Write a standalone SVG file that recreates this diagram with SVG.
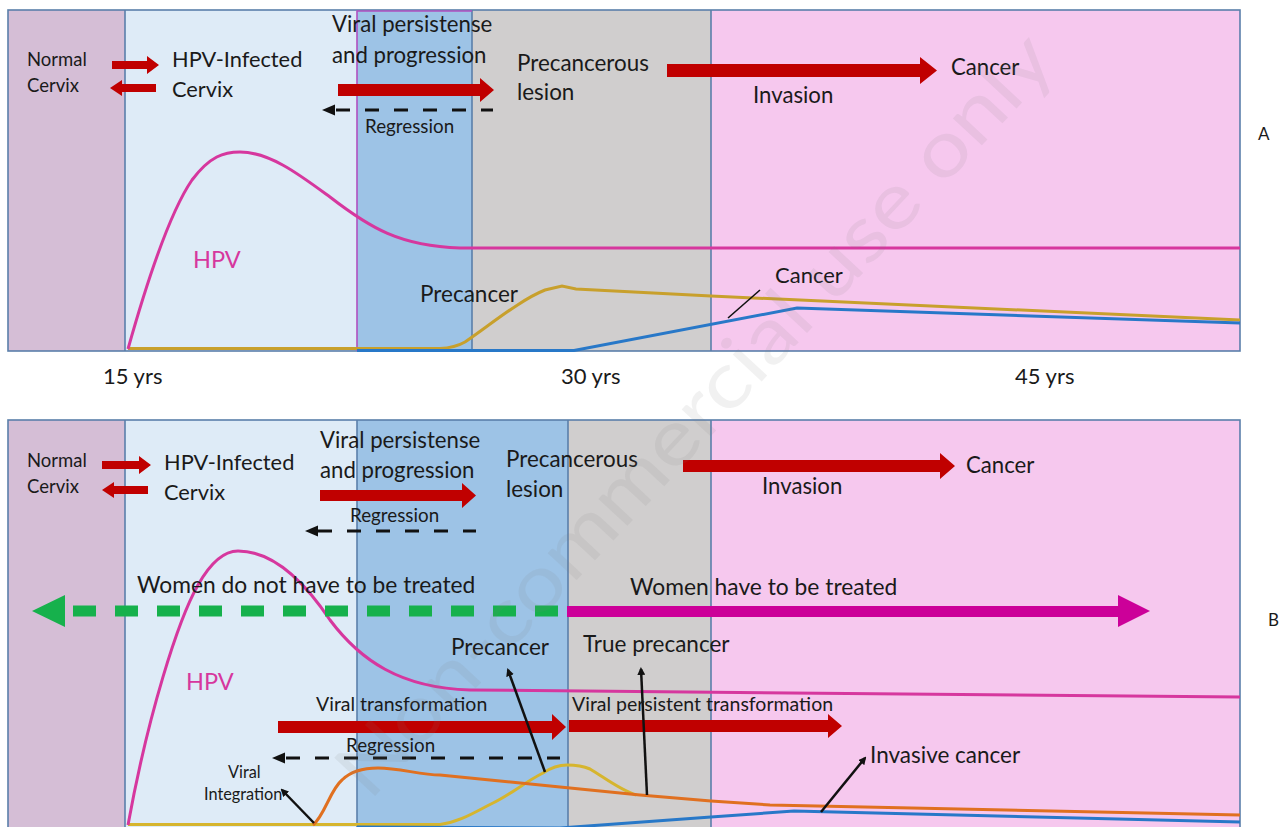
<svg xmlns="http://www.w3.org/2000/svg" width="1285" height="827" viewBox="0 0 1285 827">
<style>
.t{font-family:Lato,"Open Sans","Liberation Sans",sans-serif;fill:#1a1a1a}
.border{stroke:#5a7faa;stroke-width:1.6}
.red{fill:#c00000}
.dash{stroke:#111;stroke-width:3;stroke-dasharray:14 15;fill:none}
.ptr{stroke:#111;stroke-width:2.5;fill:none;marker-end:url(#ah)}
.hpv{stroke:#d6379e;stroke-width:3;fill:none}
.gold{stroke:#c8a02c;stroke-width:3;fill:none}
.goldb{stroke:#d6b52e;stroke-width:3;fill:none}
.orange{stroke:#e07020;stroke-width:3;fill:none}
.blue{stroke:#2878c8;stroke-width:3;fill:none}
</style>
<defs>
<marker id="ah" markerWidth="8" markerHeight="8" refX="6" refY="4" orient="auto" markerUnits="userSpaceOnUse" viewBox="0 0 8 8"><path d="M0,0 L8,4 L0,8 z" fill="#111"/></marker>
</defs>
<rect width="1285" height="827" fill="#ffffff"/>

<!-- Panel A backgrounds -->
<g id="panelA-bg">
<rect x="8" y="10" width="117" height="341" fill="#d5bed6"/>
<rect x="125" y="10" width="232" height="341" fill="#deebf7"/>
<rect x="357" y="10" width="115" height="341" fill="#9dc3e6"/>
<rect x="472" y="10" width="239" height="341" fill="#d0cece"/>
<rect x="711" y="10" width="529" height="341" fill="#f6c8ee"/>
<rect x="8" y="10" width="1232" height="341" fill="none" class="border"/>
<line x1="125" y1="10" x2="125" y2="351" class="border"/>
<line x1="472" y1="10" x2="472" y2="351" class="border"/>
<line x1="711" y1="10" x2="711" y2="351" class="border"/>
<polyline points="357,351 357,11 472,11" fill="none" stroke="#b050c0" stroke-width="1.6"/>
</g>

<!-- Panel B backgrounds -->
<g id="panelB-bg">
<rect x="8" y="420" width="117" height="420" fill="#d5bed6"/>
<rect x="125" y="420" width="232" height="420" fill="#deebf7"/>
<rect x="357" y="420" width="211" height="420" fill="#9dc3e6"/>
<rect x="568" y="420" width="143" height="420" fill="#d0cece"/>
<rect x="711" y="420" width="529" height="420" fill="#f6c8ee"/>
<rect x="8" y="420" width="1232" height="420" fill="none" class="border"/>
<line x1="125" y1="420" x2="125" y2="840" class="border"/>
<line x1="357" y1="420" x2="357" y2="840" class="border"/>
<line x1="568" y1="420" x2="568" y2="840" class="border"/>
<line x1="711" y1="420" x2="711" y2="840" class="border"/>
</g>

<!-- Panel A curves -->
<g id="curvesA">
<path class="gold" d="M128,348.5 L440,348.5 C450,348 458,346 465,342 C490,325 520,300 545,290 L562,286 L576,289 L711,296 L1240,320"/>
<path class="blue" d="M357,350.5 L574,350.5 L797,308 L1240,323"/>
<path class="hpv" d="M128,349 C146,285 168,215 192,180 C210,156 224,152 240,152 C270,152 300,175 330,197 C370,228 400,246 460,248 L1240,248"/>
</g>

<!-- Panel B curves -->
<g id="curvesB">
<path class="goldb" d="M128,824.5 L440,824.5 C460,822 475,812 493,803 C510,795 525,782 543,773 C552,767 560,765 567,765 C575,765 583,766 590,769 C605,778 620,790 636,795"/>
<path class="blue" d="M357,827 L560,828 L711,817 L794,811 L1240,822"/>
<path class="orange" d="M313,825 C325,815 330,790 342,780 C352,770 365,768 378,768 C400,768 420,775 440,775 L500,781 L560,787 L640,795 L711,801 L770,805 L1240,815"/>
<path class="hpv" d="M128,825 C148,715 178,620 198,585 C211,562 225,551 238,551 C270,551 300,575 330,620 C360,660 400,688 470,690 L1240,697"/>
</g>

<!-- Connectors -->
<g id="connectors">
<polygon class="red" points="112,61 147,61 147,56 159,65 147,74 147,69 112,69"/>
<polygon class="red" points="110,88 122,80 122,84 156,84 156,92 122,92 122,96"/>
<polygon class="red" points="338,84 480,84 480,78 494,90 480,102 480,96 338,96"/>
<line class="dash" x1="336" y1="110" x2="493" y2="110"/>
<polygon points="322,110 335,104.5 335,115.5" fill="#111"/>
<polygon class="red" points="667,64 920,64 920,57 937,70.5 920,84 920,77 667,77"/>

<polygon class="red" points="102,461 139,461 139,456 151,465 139,474 139,469 102,469"/>
<polygon class="red" points="102,490 114,482 114,486 148,486 148,494 114,494 114,498"/>
<polygon class="red" points="320,490 462,490 462,483 476,495.5 462,508 462,501 320,501"/>
<line class="dash" x1="318" y1="531" x2="476" y2="531"/>
<polygon points="305,531 318,525.5 318,536.5" fill="#111"/>
<polygon class="red" points="683,460 940,460 940,453 955,466 940,479 940,472 683,472"/>

<line x1="73" y1="611" x2="567" y2="611" stroke="#16b14c" stroke-width="11" stroke-dasharray="23 19"/>
<polygon points="32,611 65,595 65,627" fill="#16b14c"/>
<polygon points="567,606 1118,606 1118,595 1150,611 1118,627 1118,617 567,617" fill="#cc0099"/>

<polygon class="red" points="278,721 552,721 552,714 566,727 552,740 552,733 278,733"/>
<polygon class="red" points="569,720 828,720 828,714 842,726 828,738 828,732 569,732"/>
<line class="dash" x1="286" y1="758" x2="560" y2="758"/>
<polygon points="272,758 285,752.5 285,763.5" fill="#111"/>

<line class="ptr" x1="314" y1="823" x2="282" y2="790"/>
<line class="ptr" x1="545" y1="772" x2="508" y2="670"/>
<line class="ptr" x1="647" y1="795" x2="641" y2="669"/>
<line class="ptr" x1="821" y1="812" x2="865" y2="758"/>
<line x1="728" y1="318" x2="760" y2="290" stroke="#111" stroke-width="1.6"/>
</g>

<!-- Panel A labels -->
<g id="labelsA">
<text class="t" x="27" y="66" font-size="18.5">Normal</text>
<text class="t" x="27" y="92" font-size="18.5">Cervix</text>
<text class="t" x="172" y="67" font-size="21.8">HPV-Infected</text>
<text class="t" x="172" y="97" font-size="21.8">Cervix</text>
<text class="t" x="332" y="32" font-size="22.2">Viral persistense</text>
<text class="t" x="332" y="63" font-size="22.2">and progression</text>
<text class="t" x="365" y="133" font-size="18.8">Regression</text>
<text class="t" x="517" y="71" font-size="22.4">Precancerous</text>
<text class="t" x="517" y="100" font-size="22.4">lesion</text>
<text class="t" x="951" y="75" font-size="22.2">Cancer</text>
<text class="t" x="753" y="103" font-size="22.2">Invasion</text>
<text class="t" x="1258" y="140" font-size="17">A</text>
<text class="t" x="193" y="268" font-size="23.5" style="fill:#d6379e">HPV</text>
<text class="t" x="420" y="302" font-size="22.5">Precancer</text>
<text class="t" x="775" y="283" font-size="22">Cancer</text>
<text class="t" x="103" y="384" font-size="22">15 yrs</text>
<text class="t" x="561" y="384" font-size="22">30 yrs</text>
<text class="t" x="1015" y="384" font-size="22">45 yrs</text>
</g>

<!-- Panel B labels -->
<g id="labelsB">
<text class="t" x="27" y="467" font-size="18.5">Normal</text>
<text class="t" x="27" y="493" font-size="18.5">Cervix</text>
<text class="t" x="164" y="470" font-size="21.8">HPV-Infected</text>
<text class="t" x="164" y="500" font-size="21.8">Cervix</text>
<text class="t" x="320" y="448" font-size="22.2">Viral persistense</text>
<text class="t" x="320" y="478" font-size="22.2">and progression</text>
<text class="t" x="350" y="522" font-size="18.8">Regression</text>
<text class="t" x="506" y="467" font-size="22.4">Precancerous</text>
<text class="t" x="506" y="497" font-size="22.4">lesion</text>
<text class="t" x="966" y="473" font-size="22.2">Cancer</text>
<text class="t" x="762" y="494" font-size="22.2">Invasion</text>
<text class="t" x="1268" y="626" font-size="17">B</text>
<text class="t" x="137" y="593" font-size="22.8">Women do not have to be treated</text>
<text class="t" x="630" y="595" font-size="22.8">Women have to be treated</text>
<text class="t" x="186" y="690" font-size="23.5" style="fill:#d6379e">HPV</text>
<text class="t" x="451" y="655" font-size="22.5">Precancer</text>
<text class="t" x="583" y="652" font-size="22.5">True precancer</text>
<text class="t" x="316" y="711" font-size="19.5">Viral transformation</text>
<text class="t" x="572" y="711" font-size="19.5">Viral persistent transformation</text>
<text class="t" x="346" y="752" font-size="18.8">Regression</text>
<text class="t" x="228" y="778" font-size="16.3">Viral</text>
<text class="t" x="204" y="800" font-size="16.3">Integration</text>
<text class="t" x="870" y="763" font-size="22.5">Invasive cancer</text>
</g>

<g id="watermark" transform="translate(695,415) rotate(-47)">
<text x="0" y="26" text-anchor="middle" font-size="78" textLength="1010" lengthAdjust="spacingAndGlyphs" style="font-family:Lato,'Liberation Sans',sans-serif;fill:#808080;fill-opacity:0.11">Non-commercial use only</text>
</g>
</svg>
